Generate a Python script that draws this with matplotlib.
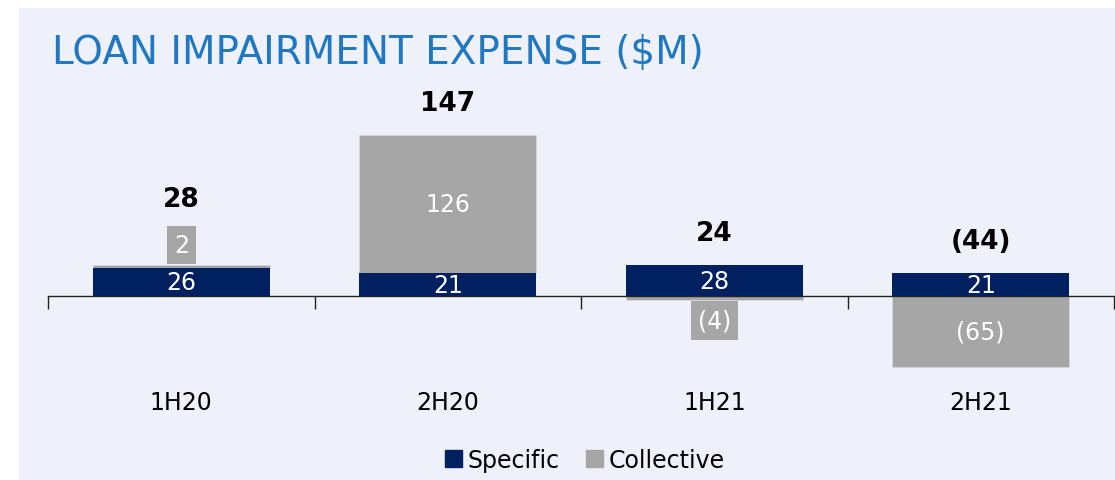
import matplotlib
matplotlib.use("Agg")
import matplotlib.pyplot as plt
import matplotlib.patches as mpatches

# Data
periods = ["1H20", "2H20", "1H21", "2H21"]
specific = [26, 21, 28, 21]
collective = [2, 126, -4, -65]
totals = [28, 147, 24, -44]

navy = "#002060"
grey = "#A6A6A6"
panel = "#EEF1F9"
title_blue = "#1F78C1"

plt.rcParams['font.family'] = ['DejaVu Sans']

def fmt(v):
    return "(%d)" % abs(v) if v < 0 else "%d" % v

fig = plt.figure(figsize=(11.15, 4.81), dpi=100)
fig.patch.set_facecolor("white")
# light panel behind everything
fig.patches.append(mpatches.Rectangle((19 / 1115, 0), 1 - 19 / 1115, 1 - 9 / 481,
                                      transform=fig.transFigure, facecolor=panel,
                                      edgecolor="none", zorder=-10))

ax = fig.add_axes([48 / 1115, 101 / 481, 1066 / 1115, 300 / 481])
ax.set_facecolor("none")

x = list(range(len(periods)))
w = 0.665

ax.bar(x, specific, width=w, color=navy, zorder=3)
# collective stacks on top of specific when positive, hangs below zero when negative
coll_bottom = [s if c > 0 else 0 for s, c in zip(specific, collective)]
ax.bar(x, collective, width=w, bottom=coll_bottom, color=grey,
       edgecolor="#D3D7DF", linewidth=0.6, zorder=2)

ax.set_xlim(-0.5, 3.5)
ax.set_ylim(-75.8, 198.2)

for sp in ["top", "right", "left"]:
    ax.spines[sp].set_visible(False)
ax.spines["bottom"].set_position(("data", 0))
ax.spines["bottom"].set_color("#222222")
ax.spines["bottom"].set_linewidth(1.0)
ax.set_yticks([])

ax.set_xticks([-0.5, 0.5, 1.5, 2.5, 3.5])
ax.set_xticklabels([])
ax.tick_params(axis="x", which="major", direction="out", length=9, width=1.0, color="#222222")
ax.set_xticks(x, minor=True)
ax.set_xticklabels(periods, minor=True, fontsize=17)
ax.tick_params(axis="x", which="minor", length=0, pad=68)

lab_size = 17
for i in x:
    s, c = specific[i], collective[i]
    ax.text(i, s / 2, fmt(s), ha="center", va="center", color="white",
            fontsize=lab_size, zorder=5)
    top = max(s, s + c if c > 0 else s)
    extra = 0
    if abs(c) < 10:
        # small bar: label sits in a grey box just outside the bar
        if c > 0:
            yend, dy = s + c, 14.5
            extra = 25
        else:
            yend, dy = c, -14.5
        ax.annotate(fmt(c), (i, yend), xytext=(0, dy), textcoords="offset points",
                    ha="center", va="center", color="white", fontsize=lab_size,
                    bbox=dict(boxstyle="square,pad=0.3", facecolor=grey, edgecolor="none"),
                    zorder=5)
    else:
        base = coll_bottom[i]
        ax.text(i, base + c / 2, fmt(c), ha="center", va="center", color="white",
                fontsize=lab_size, zorder=5)
    ax.annotate(fmt(totals[i]), (i, top), xytext=(0, 23 + extra), textcoords="offset points",
                ha="center", va="center", fontsize=19, fontweight="bold", color="black")

fig.text(52 / 1115, 1 - 53 / 481, "LOAN IMPAIRMENT EXPENSE ($M)", fontsize=28,
         color=title_blue, ha="left", va="center")

handles = [mpatches.Patch(color=navy, label="Specific"),
           mpatches.Patch(color=grey, label="Collective")]
fig.legend(handles=handles, loc="center", bbox_to_anchor=(585 / 1115, 1 - 461 / 481),
           ncol=2, frameon=False, fontsize=17, handlelength=0.7, handleheight=0.7,
           handletextpad=0.25, columnspacing=1.1, borderaxespad=0)

fig.savefig("out.png", dpi=100, facecolor=fig.get_facecolor())
